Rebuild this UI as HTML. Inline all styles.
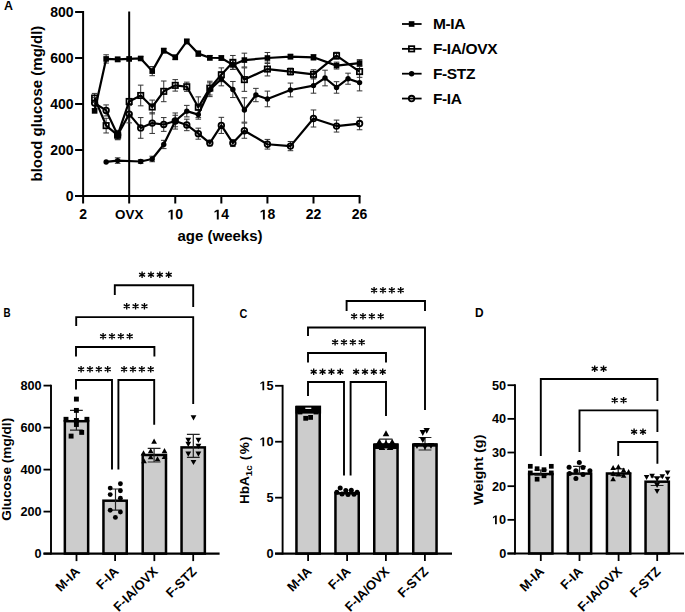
<!DOCTYPE html>
<html><head><meta charset="utf-8"><style>
html,body{margin:0;padding:0;background:#fff;}
svg{display:block;}
text{font-family:"Liberation Sans",sans-serif;fill:#000;}
</style></head><body>
<svg width="685" height="612" viewBox="0 0 685 612">
<rect width="685" height="612" fill="#fff"/>
<text x="3.90" y="9.90" font-size="12.4" text-anchor="start" font-weight="bold" >A</text>
<line x1="83.10" y1="11.00" x2="83.10" y2="197.00" stroke="#000" stroke-width="2" />
<line x1="75.10" y1="196.00" x2="360.50" y2="196.00" stroke="#000" stroke-width="2" />
<line x1="75.10" y1="196.00" x2="83.10" y2="196.00" stroke="#000" stroke-width="2" />
<text x="73.60" y="201.00" font-size="14" text-anchor="end" font-weight="bold" >0</text>
<line x1="75.10" y1="150.00" x2="83.10" y2="150.00" stroke="#000" stroke-width="2" />
<text x="73.60" y="155.00" font-size="14" text-anchor="end" font-weight="bold" >200</text>
<line x1="75.10" y1="104.00" x2="83.10" y2="104.00" stroke="#000" stroke-width="2" />
<text x="73.60" y="109.00" font-size="14" text-anchor="end" font-weight="bold" >400</text>
<line x1="75.10" y1="58.00" x2="83.10" y2="58.00" stroke="#000" stroke-width="2" />
<text x="73.60" y="63.00" font-size="14" text-anchor="end" font-weight="bold" >600</text>
<line x1="75.10" y1="12.00" x2="83.10" y2="12.00" stroke="#000" stroke-width="2" />
<text x="73.60" y="17.00" font-size="14" text-anchor="end" font-weight="bold" >800</text>
<line x1="83.10" y1="196.00" x2="83.10" y2="203.50" stroke="#000" stroke-width="2" />
<text x="83.10" y="219.40" font-size="14" text-anchor="middle" font-weight="bold" >2</text>
<line x1="129.18" y1="196.00" x2="129.18" y2="203.50" stroke="#000" stroke-width="2" />
<text x="129.18" y="219.40" font-size="13.4" text-anchor="middle" font-weight="bold" >OVX</text>
<line x1="175.26" y1="196.00" x2="175.26" y2="203.50" stroke="#000" stroke-width="2" />
<text x="175.26" y="219.40" font-size="14" text-anchor="middle" font-weight="bold" > 0</text>
<path transform="translate(167.474,219.400) scale(0.00684,-0.00684)" d="M478 0V1170L140 959V1180L493 1409H759V0Z" fill="#000"/>
<line x1="221.34" y1="196.00" x2="221.34" y2="203.50" stroke="#000" stroke-width="2" />
<text x="221.34" y="219.40" font-size="14" text-anchor="middle" font-weight="bold" > 4</text>
<path transform="translate(213.554,219.400) scale(0.00684,-0.00684)" d="M478 0V1170L140 959V1180L493 1409H759V0Z" fill="#000"/>
<line x1="267.42" y1="196.00" x2="267.42" y2="203.50" stroke="#000" stroke-width="2" />
<text x="267.42" y="219.40" font-size="14" text-anchor="middle" font-weight="bold" > 8</text>
<path transform="translate(259.634,219.400) scale(0.00684,-0.00684)" d="M478 0V1170L140 959V1180L493 1409H759V0Z" fill="#000"/>
<line x1="313.50" y1="196.00" x2="313.50" y2="203.50" stroke="#000" stroke-width="2" />
<text x="313.50" y="219.40" font-size="14" text-anchor="middle" font-weight="bold" >22</text>
<line x1="359.58" y1="196.00" x2="359.58" y2="203.50" stroke="#000" stroke-width="2" />
<text x="359.58" y="219.40" font-size="14" text-anchor="middle" font-weight="bold" >26</text>
<line x1="129.18" y1="11.50" x2="129.18" y2="196.00" stroke="#000" stroke-width="2" />
<text x="177.50" y="240.50" font-size="15" text-anchor="start" font-weight="bold" >age (weeks)</text>
<text transform="translate(41.8,181.5) rotate(-90)" font-size="15" font-weight="bold">blood glucose (mg/dl)</text>
<path d="M106.14,54.78V63.06M103.34,54.78H108.94M103.34,63.06H108.94" stroke="#333" stroke-width="1" fill="none"/>
<path d="M117.66,57.08V61.68M114.86,57.08H120.46M114.86,61.68H120.46" stroke="#333" stroke-width="1" fill="none"/>
<path d="M129.18,57.08V60.76M126.38,57.08H131.98M126.38,60.76H131.98" stroke="#333" stroke-width="1" fill="none"/>
<path d="M140.70,56.62V60.30M137.90,56.62H143.50M137.90,60.30H143.50" stroke="#333" stroke-width="1" fill="none"/>
<path d="M152.22,66.51V75.71M149.42,66.51H155.02M149.42,75.71H155.02" stroke="#333" stroke-width="1" fill="none"/>
<path d="M163.74,48.34V52.94M160.94,48.34H166.54M160.94,52.94H166.54" stroke="#333" stroke-width="1" fill="none"/>
<path d="M175.26,55.01V59.61M172.46,55.01H178.06M172.46,59.61H178.06" stroke="#333" stroke-width="1" fill="none"/>
<path d="M186.78,39.14V43.74M183.98,39.14H189.58M183.98,43.74H189.58" stroke="#333" stroke-width="1" fill="none"/>
<path d="M198.30,50.87V56.39M195.50,50.87H201.10M195.50,56.39H201.10" stroke="#333" stroke-width="1" fill="none"/>
<path d="M209.82,55.47V60.07M207.02,55.47H212.62M207.02,60.07H212.62" stroke="#333" stroke-width="1" fill="none"/>
<path d="M221.34,55.70V60.30M218.54,55.70H224.14M218.54,60.30H224.14" stroke="#333" stroke-width="1" fill="none"/>
<path d="M232.86,60.30V69.50M230.06,60.30H235.66M230.06,69.50H235.66" stroke="#333" stroke-width="1" fill="none"/>
<path d="M244.38,53.17V66.97M241.58,53.17H247.18M241.58,66.97H247.18" stroke="#333" stroke-width="1" fill="none"/>
<path d="M267.42,52.48V63.52M264.62,52.48H270.22M264.62,63.52H270.22" stroke="#333" stroke-width="1" fill="none"/>
<path d="M290.46,54.32V58.92M287.66,54.32H293.26M287.66,58.92H293.26" stroke="#333" stroke-width="1" fill="none"/>
<path d="M313.50,54.55V60.07M310.70,54.55H316.30M310.70,60.07H316.30" stroke="#333" stroke-width="1" fill="none"/>
<path d="M336.54,62.14V69.04M333.74,62.14H339.34M333.74,69.04H339.34" stroke="#333" stroke-width="1" fill="none"/>
<path d="M359.58,59.61V66.51M356.78,59.61H362.38M356.78,66.51H362.38" stroke="#333" stroke-width="1" fill="none"/>
<path d="M94.62,93.42V102.62M91.82,93.42H97.42M91.82,102.62H97.42" stroke="#333" stroke-width="1" fill="none"/>
<path d="M106.14,118.26V132.98M103.34,118.26H108.94M103.34,132.98H108.94" stroke="#333" stroke-width="1" fill="none"/>
<path d="M117.66,130.45V139.65M114.86,130.45H120.46M114.86,139.65H120.46" stroke="#333" stroke-width="1" fill="none"/>
<path d="M129.18,98.71V104.23M126.38,98.71H131.98M126.38,104.23H131.98" stroke="#333" stroke-width="1" fill="none"/>
<path d="M140.70,85.14V105.84M137.90,85.14H143.50M137.90,105.84H143.50" stroke="#333" stroke-width="1" fill="none"/>
<path d="M152.22,100.09V113.89M149.42,100.09H155.02M149.42,113.89H155.02" stroke="#333" stroke-width="1" fill="none"/>
<path d="M163.74,81.00V101.70M160.94,81.00H166.54M160.94,101.70H166.54" stroke="#333" stroke-width="1" fill="none"/>
<path d="M175.26,79.62V91.12M172.46,79.62H178.06M172.46,91.12H178.06" stroke="#333" stroke-width="1" fill="none"/>
<path d="M186.78,82.15V91.35M183.98,82.15H189.58M183.98,91.35H189.58" stroke="#333" stroke-width="1" fill="none"/>
<path d="M198.30,96.87V117.57M195.50,96.87H201.10M195.50,117.57H201.10" stroke="#333" stroke-width="1" fill="none"/>
<path d="M209.82,81.23V95.03M207.02,81.23H212.62M207.02,95.03H212.62" stroke="#333" stroke-width="1" fill="none"/>
<path d="M221.34,67.89V81.69M218.54,67.89H224.14M218.54,81.69H224.14" stroke="#333" stroke-width="1" fill="none"/>
<path d="M232.86,55.47V69.27M230.06,55.47H235.66M230.06,69.27H235.66" stroke="#333" stroke-width="1" fill="none"/>
<path d="M244.38,67.89V91.35M241.58,67.89H247.18M241.58,91.35H247.18" stroke="#333" stroke-width="1" fill="none"/>
<path d="M267.42,62.14V75.94M264.62,62.14H270.22M264.62,75.94H270.22" stroke="#333" stroke-width="1" fill="none"/>
<path d="M290.46,68.12V75.02M287.66,68.12H293.26M287.66,75.02H293.26" stroke="#333" stroke-width="1" fill="none"/>
<path d="M313.50,69.73V78.93M310.70,69.73H316.30M310.70,78.93H316.30" stroke="#333" stroke-width="1" fill="none"/>
<path d="M336.54,52.25V59.15M333.74,52.25H339.34M333.74,59.15H339.34" stroke="#333" stroke-width="1" fill="none"/>
<path d="M359.58,65.82V77.32M356.78,65.82H362.38M356.78,77.32H362.38" stroke="#333" stroke-width="1" fill="none"/>
<path d="M117.66,157.82V163.34M114.86,157.82H120.46M114.86,163.34H120.46" stroke="#333" stroke-width="1" fill="none"/>
<path d="M140.70,159.66V163.34M137.90,159.66H143.50M137.90,163.34H143.50" stroke="#333" stroke-width="1" fill="none"/>
<path d="M152.22,156.21V161.73M149.42,156.21H155.02M149.42,161.73H155.02" stroke="#333" stroke-width="1" fill="none"/>
<path d="M163.74,140.34V148.62M160.94,140.34H166.54M160.94,148.62H166.54" stroke="#333" stroke-width="1" fill="none"/>
<path d="M175.26,115.27V126.77M172.46,115.27H178.06M172.46,126.77H178.06" stroke="#333" stroke-width="1" fill="none"/>
<path d="M186.78,105.38V116.88M183.98,105.38H189.58M183.98,116.88H189.58" stroke="#333" stroke-width="1" fill="none"/>
<path d="M198.30,109.98V119.18M195.50,109.98H201.10M195.50,119.18H201.10" stroke="#333" stroke-width="1" fill="none"/>
<path d="M209.82,82.84V96.64M207.02,82.84H212.62M207.02,96.64H212.62" stroke="#333" stroke-width="1" fill="none"/>
<path d="M221.34,72.03V85.83M218.54,72.03H224.14M218.54,85.83H224.14" stroke="#333" stroke-width="1" fill="none"/>
<path d="M232.86,81.46V97.56M230.06,81.46H235.66M230.06,97.56H235.66" stroke="#333" stroke-width="1" fill="none"/>
<path d="M244.38,97.79V122.17M241.58,97.79H247.18M241.58,122.17H247.18" stroke="#333" stroke-width="1" fill="none"/>
<path d="M255.90,88.36V101.70M253.10,88.36H258.70M253.10,101.70H258.70" stroke="#333" stroke-width="1" fill="none"/>
<path d="M267.42,91.12V106.76M264.62,91.12H270.22M264.62,106.76H270.22" stroke="#333" stroke-width="1" fill="none"/>
<path d="M290.46,83.07V96.87M287.66,83.07H293.26M287.66,96.87H293.26" stroke="#333" stroke-width="1" fill="none"/>
<path d="M313.50,78.01V93.19M310.70,78.01H316.30M310.70,93.19H316.30" stroke="#333" stroke-width="1" fill="none"/>
<path d="M325.02,70.19V85.83M322.22,70.19H327.82M322.22,85.83H327.82" stroke="#333" stroke-width="1" fill="none"/>
<path d="M336.54,81.69V93.19M333.74,81.69H339.34M333.74,93.19H339.34" stroke="#333" stroke-width="1" fill="none"/>
<path d="M348.06,73.18V84.22M345.26,73.18H350.86M345.26,84.22H350.86" stroke="#333" stroke-width="1" fill="none"/>
<path d="M359.58,74.33V90.89M356.78,74.33H362.38M356.78,90.89H362.38" stroke="#333" stroke-width="1" fill="none"/>
<path d="M94.62,97.33V108.83M91.82,97.33H97.42M91.82,108.83H97.42" stroke="#333" stroke-width="1" fill="none"/>
<path d="M106.14,104.92V115.96M103.34,104.92H108.94M103.34,115.96H108.94" stroke="#333" stroke-width="1" fill="none"/>
<path d="M117.66,130.45V139.65M114.86,130.45H120.46M114.86,139.65H120.46" stroke="#333" stroke-width="1" fill="none"/>
<path d="M129.18,105.38V122.86M126.38,105.38H131.98M126.38,122.86H131.98" stroke="#333" stroke-width="1" fill="none"/>
<path d="M140.70,117.57V138.27M137.90,117.57H143.50M137.90,138.27H143.50" stroke="#333" stroke-width="1" fill="none"/>
<path d="M152.22,112.74V133.44M149.42,112.74H155.02M149.42,133.44H155.02" stroke="#333" stroke-width="1" fill="none"/>
<path d="M163.74,117.57V131.37M160.94,117.57H166.54M160.94,131.37H166.54" stroke="#333" stroke-width="1" fill="none"/>
<path d="M175.26,112.97V129.07M172.46,112.97H178.06M172.46,129.07H178.06" stroke="#333" stroke-width="1" fill="none"/>
<path d="M186.78,119.18V130.68M183.98,119.18H189.58M183.98,130.68H189.58" stroke="#333" stroke-width="1" fill="none"/>
<path d="M198.30,128.15V139.19M195.50,128.15H201.10M195.50,139.19H201.10" stroke="#333" stroke-width="1" fill="none"/>
<path d="M209.82,140.34V145.86M207.02,140.34H212.62M207.02,145.86H212.62" stroke="#333" stroke-width="1" fill="none"/>
<path d="M221.34,117.34V133.44M218.54,117.34H224.14M218.54,133.44H224.14" stroke="#333" stroke-width="1" fill="none"/>
<path d="M232.86,139.65V146.55M230.06,139.65H235.66M230.06,146.55H235.66" stroke="#333" stroke-width="1" fill="none"/>
<path d="M244.38,123.09V138.27M241.58,123.09H247.18M241.58,138.27H247.18" stroke="#333" stroke-width="1" fill="none"/>
<path d="M267.42,139.42V149.08M264.62,139.42H270.22M264.62,149.08H270.22" stroke="#333" stroke-width="1" fill="none"/>
<path d="M290.46,141.49V150.69M287.66,141.49H293.26M287.66,150.69H293.26" stroke="#333" stroke-width="1" fill="none"/>
<path d="M313.50,109.98V127.00M310.70,109.98H316.30M310.70,127.00H316.30" stroke="#333" stroke-width="1" fill="none"/>
<path d="M336.54,120.10V132.06M333.74,120.10H339.34M333.74,132.06H339.34" stroke="#333" stroke-width="1" fill="none"/>
<path d="M359.58,117.34V129.76M356.78,117.34H362.38M356.78,129.76H362.38" stroke="#333" stroke-width="1" fill="none"/>
<polyline points="94.62,110.90 106.14,58.92 117.66,59.38 129.18,58.92 140.70,58.46 152.22,71.11 163.74,50.64 175.26,57.31 186.78,41.44 198.30,53.63 209.82,57.77 221.34,58.00 232.86,64.90 244.38,60.07 267.42,58.00 290.46,56.62 313.50,57.31 336.54,65.59 359.58,63.06" fill="none" stroke="#000" stroke-width="2.2" stroke-linejoin="round"/>
<polyline points="94.62,98.02 106.14,125.62 117.66,135.05 129.18,101.47 140.70,95.49 152.22,106.99 163.74,91.35 175.26,85.37 186.78,86.75 198.30,107.22 209.82,88.13 221.34,74.79 232.86,62.37 244.38,79.62 267.42,69.04 290.46,71.57 313.50,74.33 336.54,55.70 359.58,71.57" fill="none" stroke="#000" stroke-width="2.2" stroke-linejoin="round"/>
<polyline points="106.14,161.96 117.66,160.58 140.70,161.50 152.22,158.97 163.74,144.48 175.26,121.02 186.78,111.13 198.30,114.58 209.82,89.74 221.34,78.93 232.86,89.51 244.38,109.98 255.90,95.03 267.42,98.94 290.46,89.97 313.50,85.60 325.02,78.01 336.54,87.44 348.06,78.70 359.58,82.61" fill="none" stroke="#000" stroke-width="2.2" stroke-linejoin="round"/>
<polyline points="94.62,103.08 106.14,110.44 117.66,135.05 129.18,114.12 140.70,127.92 152.22,123.09 163.74,124.47 175.26,121.02 186.78,124.93 198.30,133.67 209.82,143.10 221.34,125.39 232.86,143.10 244.38,130.68 267.42,144.25 290.46,146.09 313.50,118.49 336.54,126.08 359.58,123.55" fill="none" stroke="#000" stroke-width="2.2" stroke-linejoin="round"/>
<circle cx="94.62" cy="103.08" r="2.8" fill="none" stroke="#000" stroke-width="1.8"/>
<circle cx="106.14" cy="110.44" r="2.8" fill="none" stroke="#000" stroke-width="1.8"/>
<circle cx="117.66" cy="135.05" r="2.8" fill="none" stroke="#000" stroke-width="1.8"/>
<circle cx="129.18" cy="114.12" r="2.8" fill="none" stroke="#000" stroke-width="1.8"/>
<circle cx="140.70" cy="127.92" r="2.8" fill="none" stroke="#000" stroke-width="1.8"/>
<circle cx="152.22" cy="123.09" r="2.8" fill="none" stroke="#000" stroke-width="1.8"/>
<circle cx="163.74" cy="124.47" r="2.8" fill="none" stroke="#000" stroke-width="1.8"/>
<circle cx="175.26" cy="121.02" r="2.8" fill="none" stroke="#000" stroke-width="1.8"/>
<circle cx="186.78" cy="124.93" r="2.8" fill="none" stroke="#000" stroke-width="1.8"/>
<circle cx="198.30" cy="133.67" r="2.8" fill="none" stroke="#000" stroke-width="1.8"/>
<circle cx="209.82" cy="143.10" r="2.8" fill="none" stroke="#000" stroke-width="1.8"/>
<circle cx="221.34" cy="125.39" r="2.8" fill="none" stroke="#000" stroke-width="1.8"/>
<circle cx="232.86" cy="143.10" r="2.8" fill="none" stroke="#000" stroke-width="1.8"/>
<circle cx="244.38" cy="130.68" r="2.8" fill="none" stroke="#000" stroke-width="1.8"/>
<circle cx="267.42" cy="144.25" r="2.8" fill="none" stroke="#000" stroke-width="1.8"/>
<circle cx="290.46" cy="146.09" r="2.8" fill="none" stroke="#000" stroke-width="1.8"/>
<circle cx="313.50" cy="118.49" r="2.8" fill="none" stroke="#000" stroke-width="1.8"/>
<circle cx="336.54" cy="126.08" r="2.8" fill="none" stroke="#000" stroke-width="1.8"/>
<circle cx="359.58" cy="123.55" r="2.8" fill="none" stroke="#000" stroke-width="1.8"/>
<circle cx="106.14" cy="161.96" r="2.7" fill="#000"/>
<circle cx="117.66" cy="160.58" r="2.7" fill="#000"/>
<circle cx="140.70" cy="161.50" r="2.7" fill="#000"/>
<circle cx="152.22" cy="158.97" r="2.7" fill="#000"/>
<circle cx="163.74" cy="144.48" r="2.7" fill="#000"/>
<circle cx="175.26" cy="121.02" r="2.7" fill="#000"/>
<circle cx="186.78" cy="111.13" r="2.7" fill="#000"/>
<circle cx="198.30" cy="114.58" r="2.7" fill="#000"/>
<circle cx="209.82" cy="89.74" r="2.7" fill="#000"/>
<circle cx="221.34" cy="78.93" r="2.7" fill="#000"/>
<circle cx="232.86" cy="89.51" r="2.7" fill="#000"/>
<circle cx="244.38" cy="109.98" r="2.7" fill="#000"/>
<circle cx="255.90" cy="95.03" r="2.7" fill="#000"/>
<circle cx="267.42" cy="98.94" r="2.7" fill="#000"/>
<circle cx="290.46" cy="89.97" r="2.7" fill="#000"/>
<circle cx="313.50" cy="85.60" r="2.7" fill="#000"/>
<circle cx="325.02" cy="78.01" r="2.7" fill="#000"/>
<circle cx="336.54" cy="87.44" r="2.7" fill="#000"/>
<circle cx="348.06" cy="78.70" r="2.7" fill="#000"/>
<circle cx="359.58" cy="82.61" r="2.7" fill="#000"/>
<rect x="91.92" y="95.32" width="5.4" height="5.4" fill="none" stroke="#000" stroke-width="1.7"/>
<rect x="103.44" y="122.92" width="5.4" height="5.4" fill="none" stroke="#000" stroke-width="1.7"/>
<rect x="114.96" y="132.35" width="5.4" height="5.4" fill="none" stroke="#000" stroke-width="1.7"/>
<rect x="126.48" y="98.77" width="5.4" height="5.4" fill="none" stroke="#000" stroke-width="1.7"/>
<rect x="138.00" y="92.79" width="5.4" height="5.4" fill="none" stroke="#000" stroke-width="1.7"/>
<rect x="149.52" y="104.29" width="5.4" height="5.4" fill="none" stroke="#000" stroke-width="1.7"/>
<rect x="161.04" y="88.65" width="5.4" height="5.4" fill="none" stroke="#000" stroke-width="1.7"/>
<rect x="172.56" y="82.67" width="5.4" height="5.4" fill="none" stroke="#000" stroke-width="1.7"/>
<rect x="184.08" y="84.05" width="5.4" height="5.4" fill="none" stroke="#000" stroke-width="1.7"/>
<rect x="195.60" y="104.52" width="5.4" height="5.4" fill="none" stroke="#000" stroke-width="1.7"/>
<rect x="207.12" y="85.43" width="5.4" height="5.4" fill="none" stroke="#000" stroke-width="1.7"/>
<rect x="218.64" y="72.09" width="5.4" height="5.4" fill="none" stroke="#000" stroke-width="1.7"/>
<rect x="230.16" y="59.67" width="5.4" height="5.4" fill="none" stroke="#000" stroke-width="1.7"/>
<rect x="241.68" y="76.92" width="5.4" height="5.4" fill="none" stroke="#000" stroke-width="1.7"/>
<rect x="264.72" y="66.34" width="5.4" height="5.4" fill="none" stroke="#000" stroke-width="1.7"/>
<rect x="287.76" y="68.87" width="5.4" height="5.4" fill="none" stroke="#000" stroke-width="1.7"/>
<rect x="310.80" y="71.63" width="5.4" height="5.4" fill="none" stroke="#000" stroke-width="1.7"/>
<rect x="333.84" y="53.00" width="5.4" height="5.4" fill="none" stroke="#000" stroke-width="1.7"/>
<rect x="356.88" y="68.87" width="5.4" height="5.4" fill="none" stroke="#000" stroke-width="1.7"/>
<rect x="91.82" y="108.10" width="5.6" height="5.6" fill="#000"/>
<rect x="103.34" y="56.12" width="5.6" height="5.6" fill="#000"/>
<rect x="114.86" y="56.58" width="5.6" height="5.6" fill="#000"/>
<rect x="126.38" y="56.12" width="5.6" height="5.6" fill="#000"/>
<rect x="137.90" y="55.66" width="5.6" height="5.6" fill="#000"/>
<rect x="149.42" y="68.31" width="5.6" height="5.6" fill="#000"/>
<rect x="160.94" y="47.84" width="5.6" height="5.6" fill="#000"/>
<rect x="172.46" y="54.51" width="5.6" height="5.6" fill="#000"/>
<rect x="183.98" y="38.64" width="5.6" height="5.6" fill="#000"/>
<rect x="195.50" y="50.83" width="5.6" height="5.6" fill="#000"/>
<rect x="207.02" y="54.97" width="5.6" height="5.6" fill="#000"/>
<rect x="218.54" y="55.20" width="5.6" height="5.6" fill="#000"/>
<rect x="230.06" y="62.10" width="5.6" height="5.6" fill="#000"/>
<rect x="241.58" y="57.27" width="5.6" height="5.6" fill="#000"/>
<rect x="264.62" y="55.20" width="5.6" height="5.6" fill="#000"/>
<rect x="287.66" y="53.82" width="5.6" height="5.6" fill="#000"/>
<rect x="310.70" y="54.51" width="5.6" height="5.6" fill="#000"/>
<rect x="333.74" y="62.79" width="5.6" height="5.6" fill="#000"/>
<rect x="356.78" y="60.26" width="5.6" height="5.6" fill="#000"/>
<rect x="114.56" y="132.41" width="6.2" height="6.2" fill="#000"/>
<line x1="402.00" y1="24.00" x2="421.60" y2="24.00" stroke="#000" stroke-width="1.8" />
<rect x="408.80" y="21.20" width="5.6" height="5.6" fill="#000"/>
<text x="433.00" y="29.40" font-size="15.5" text-anchor="start" font-weight="bold" letter-spacing="-0.38">M-IA</text>
<line x1="402.00" y1="48.85" x2="421.60" y2="48.85" stroke="#000" stroke-width="1.8" />
<rect x="408.90" y="46.15" width="5.4" height="5.4" fill="none" stroke="#000" stroke-width="1.7"/>
<text x="433.00" y="54.25" font-size="15.5" text-anchor="start" font-weight="bold" letter-spacing="-0.38">F-IA/OVX</text>
<line x1="402.00" y1="73.70" x2="421.60" y2="73.70" stroke="#000" stroke-width="1.8" />
<circle cx="411.60" cy="73.70" r="2.7" fill="#000"/>
<text x="433.00" y="79.10" font-size="15.5" text-anchor="start" font-weight="bold" letter-spacing="-0.38">F-STZ</text>
<line x1="402.00" y1="98.55" x2="421.60" y2="98.55" stroke="#000" stroke-width="1.8" />
<circle cx="411.60" cy="98.55" r="2.8" fill="none" stroke="#000" stroke-width="1.8"/>
<text x="433.00" y="103.95" font-size="15.5" text-anchor="start" font-weight="bold" letter-spacing="-0.38">F-IA</text>
<text transform="translate(3.4,317.0) scale(0.82,1)" font-size="12" font-weight="bold">B</text>
<rect x="64.85" y="421.20" width="23.3" height="132.40" fill="#cccccc" stroke="#000" stroke-width="2.5"/>
<rect x="103.45" y="500.70" width="23.3" height="52.90" fill="#cccccc" stroke="#000" stroke-width="2.5"/>
<rect x="142.70" y="455.00" width="23.3" height="98.60" fill="#cccccc" stroke="#000" stroke-width="2.5"/>
<rect x="181.55" y="447.40" width="23.3" height="106.20" fill="#cccccc" stroke="#000" stroke-width="2.5"/>
<line x1="51.00" y1="384.70" x2="51.00" y2="554.60" stroke="#000" stroke-width="1.9" />
<line x1="43.50" y1="553.60" x2="219.60" y2="553.60" stroke="#000" stroke-width="2.2" />
<line x1="43.50" y1="553.60" x2="51.00" y2="553.60" stroke="#000" stroke-width="1.8" />
<text x="41.60" y="558.10" font-size="12.7" text-anchor="end" font-weight="bold" >0</text>
<line x1="43.50" y1="511.60" x2="51.00" y2="511.60" stroke="#000" stroke-width="1.8" />
<text x="41.60" y="516.10" font-size="12.7" text-anchor="end" font-weight="bold" >200</text>
<line x1="43.50" y1="469.60" x2="51.00" y2="469.60" stroke="#000" stroke-width="1.8" />
<text x="41.60" y="474.10" font-size="12.7" text-anchor="end" font-weight="bold" >400</text>
<line x1="43.50" y1="427.60" x2="51.00" y2="427.60" stroke="#000" stroke-width="1.8" />
<text x="41.60" y="432.10" font-size="12.7" text-anchor="end" font-weight="bold" >600</text>
<line x1="43.50" y1="385.60" x2="51.00" y2="385.60" stroke="#000" stroke-width="1.8" />
<text x="41.60" y="390.10" font-size="12.7" text-anchor="end" font-weight="bold" >800</text>
<line x1="76.50" y1="553.60" x2="76.50" y2="561.10" stroke="#000" stroke-width="1.8" />
<line x1="115.10" y1="553.60" x2="115.10" y2="561.10" stroke="#000" stroke-width="1.8" />
<line x1="154.35" y1="553.60" x2="154.35" y2="561.10" stroke="#000" stroke-width="1.8" />
<line x1="193.20" y1="553.60" x2="193.20" y2="561.10" stroke="#000" stroke-width="1.8" />
<text transform="translate(80.70,572.30) rotate(-45)" font-size="13" font-weight="bold" text-anchor="end">M-IA</text>
<text transform="translate(119.30,572.30) rotate(-45)" font-size="13" font-weight="bold" text-anchor="end">F-IA</text>
<text transform="translate(158.55,572.30) rotate(-45)" font-size="13" font-weight="bold" text-anchor="end">F-IA/OVX</text>
<text transform="translate(197.40,572.30) rotate(-45)" font-size="13" font-weight="bold" text-anchor="end">F-STZ</text>
<text transform="translate(11.4,520.8) rotate(-90)" font-size="13" font-weight="bold" textLength="103" lengthAdjust="spacingAndGlyphs">Glucose (mg/dl)</text>
<path d="M76.40,410.40V430.20M70.00,410.40H82.80M70.00,430.20H82.80" stroke="#222" stroke-width="1.2" fill="none"/>
<rect x="73.95" y="396.65" width="4.9" height="4.9" fill="#000"/>
<rect x="73.95" y="407.95" width="4.9" height="4.9" fill="#000"/>
<rect x="63.55" y="416.85" width="4.9" height="4.9" fill="#000"/>
<rect x="84.45" y="416.85" width="4.9" height="4.9" fill="#000"/>
<rect x="73.95" y="418.05" width="4.9" height="4.9" fill="#000"/>
<rect x="73.95" y="422.05" width="4.9" height="4.9" fill="#000"/>
<rect x="79.25" y="429.95" width="4.9" height="4.9" fill="#000"/>
<rect x="68.65" y="433.65" width="4.9" height="4.9" fill="#000"/>
<path d="M115.50,489.00V510.10M109.10,489.00H121.90M109.10,510.10H121.90" stroke="#222" stroke-width="1.2" fill="none"/>
<circle cx="120.40" cy="483.80" r="2.45" fill="#000"/>
<circle cx="110.20" cy="488.10" r="2.45" fill="#000"/>
<circle cx="120.40" cy="490.80" r="2.45" fill="#000"/>
<circle cx="110.20" cy="494.60" r="2.45" fill="#000"/>
<circle cx="120.40" cy="498.30" r="2.45" fill="#000"/>
<circle cx="110.20" cy="510.30" r="2.45" fill="#000"/>
<circle cx="120.40" cy="512.10" r="2.45" fill="#000"/>
<circle cx="115.40" cy="517.40" r="2.45" fill="#000"/>
<path d="M154.10,448.40V462.00M147.70,448.40H160.50M147.70,462.00H160.50" stroke="#222" stroke-width="1.2" fill="none"/>
<path d="M154.10,438.54L156.95,443.67L151.25,443.67Z" fill="#000"/>
<path d="M150.70,448.04L153.55,453.17L147.85,453.17Z" fill="#000"/>
<path d="M164.50,448.04L167.35,453.17L161.65,453.17Z" fill="#000"/>
<path d="M143.50,450.33L146.35,455.46L140.65,455.46Z" fill="#000"/>
<path d="M150.70,454.24L153.55,459.37L147.85,459.37Z" fill="#000"/>
<path d="M157.50,456.24L160.35,461.37L154.65,461.37Z" fill="#000"/>
<path d="M164.50,453.94L167.35,459.06L161.65,459.06Z" fill="#000"/>
<path d="M144.00,458.13L146.85,463.26L141.15,463.26Z" fill="#000"/>
<path d="M193.30,434.30V457.30M186.90,434.30H199.70M186.90,457.30H199.70" stroke="#222" stroke-width="1.2" fill="none"/>
<path d="M193.50,420.51L196.40,415.29L190.60,415.29Z" fill="#000"/>
<path d="M188.30,443.01L191.20,437.79L185.40,437.79Z" fill="#000"/>
<path d="M198.40,443.01L201.30,437.79L195.50,437.79Z" fill="#000"/>
<path d="M188.30,446.91L191.20,441.69L185.40,441.69Z" fill="#000"/>
<path d="M198.40,448.91L201.30,443.69L195.50,443.69Z" fill="#000"/>
<path d="M188.30,456.81L191.20,451.59L185.40,451.59Z" fill="#000"/>
<path d="M198.40,456.81L201.30,451.59L195.50,451.59Z" fill="#000"/>
<path d="M193.50,465.11L196.40,459.89L190.60,459.89Z" fill="#000"/>
<path d="M114.80,295.00V285.20H193.20V307.00" stroke="#000" stroke-width="1.9" fill="none"/>
<path d="M142.10,271.40V278.00M139.10,273.05L145.10,276.35M139.10,276.35L145.10,273.05" stroke="#000" stroke-width="1.35" fill="none"/>
<path d="M150.97,271.40V278.00M147.97,273.05L153.97,276.35M147.97,276.35L153.97,273.05" stroke="#000" stroke-width="1.35" fill="none"/>
<path d="M159.84,271.40V278.00M156.84,273.05L162.84,276.35M156.84,276.35L162.84,273.05" stroke="#000" stroke-width="1.35" fill="none"/>
<path d="M168.71,271.40V278.00M165.71,273.05L171.71,276.35M165.71,276.35L171.71,273.05" stroke="#000" stroke-width="1.35" fill="none"/>
<path d="M76.20,326.00V317.10H193.20V404.00" stroke="#000" stroke-width="1.9" fill="none"/>
<path d="M126.70,303.00V309.60M123.70,304.65L129.70,307.95M123.70,307.95L129.70,304.65" stroke="#000" stroke-width="1.35" fill="none"/>
<path d="M135.57,303.00V309.60M132.57,304.65L138.57,307.95M132.57,307.95L138.57,304.65" stroke="#000" stroke-width="1.35" fill="none"/>
<path d="M144.44,303.00V309.60M141.44,304.65L147.44,307.95M141.44,307.95L147.44,304.65" stroke="#000" stroke-width="1.35" fill="none"/>
<path d="M76.00,356.60V347.00H154.40V356.60" stroke="#000" stroke-width="1.9" fill="none"/>
<path d="M103.10,333.00V339.60M100.10,334.65L106.10,337.95M100.10,337.95L106.10,334.65" stroke="#000" stroke-width="1.35" fill="none"/>
<path d="M111.97,333.00V339.60M108.97,334.65L114.97,337.95M108.97,337.95L114.97,334.65" stroke="#000" stroke-width="1.35" fill="none"/>
<path d="M120.84,333.00V339.60M117.84,334.65L123.84,337.95M117.84,337.95L123.84,334.65" stroke="#000" stroke-width="1.35" fill="none"/>
<path d="M129.71,333.00V339.60M126.71,334.65L132.71,337.95M126.71,337.95L132.71,334.65" stroke="#000" stroke-width="1.35" fill="none"/>
<path d="M76.00,389.60V380.00H112.00V469.60" stroke="#000" stroke-width="1.9" fill="none"/>
<path d="M118.40,469.60V380.00H154.20V424.70" stroke="#000" stroke-width="1.9" fill="none"/>
<path d="M81.10,366.00V372.60M78.10,367.65L84.10,370.95M78.10,370.95L84.10,367.65" stroke="#000" stroke-width="1.35" fill="none"/>
<path d="M89.97,366.00V372.60M86.97,367.65L92.97,370.95M86.97,370.95L92.97,367.65" stroke="#000" stroke-width="1.35" fill="none"/>
<path d="M98.84,366.00V372.60M95.84,367.65L101.84,370.95M95.84,370.95L101.84,367.65" stroke="#000" stroke-width="1.35" fill="none"/>
<path d="M107.71,366.00V372.60M104.71,367.65L110.71,370.95M104.71,370.95L110.71,367.65" stroke="#000" stroke-width="1.35" fill="none"/>
<path d="M124.10,366.00V372.60M121.10,367.65L127.10,370.95M121.10,370.95L127.10,367.65" stroke="#000" stroke-width="1.35" fill="none"/>
<path d="M132.97,366.00V372.60M129.97,367.65L135.97,370.95M129.97,370.95L135.97,367.65" stroke="#000" stroke-width="1.35" fill="none"/>
<path d="M141.84,366.00V372.60M138.84,367.65L144.84,370.95M138.84,370.95L144.84,367.65" stroke="#000" stroke-width="1.35" fill="none"/>
<path d="M150.71,366.00V372.60M147.71,367.65L153.71,370.95M147.71,370.95L153.71,367.65" stroke="#000" stroke-width="1.35" fill="none"/>
<text transform="translate(239.5,317.6) scale(0.84,1)" font-size="12.9" font-weight="bold">C</text>
<rect x="296.45" y="407.30" width="23.3" height="146.30" fill="#cccccc" stroke="#000" stroke-width="2.5"/>
<rect x="335.45" y="493.30" width="23.3" height="60.30" fill="#cccccc" stroke="#000" stroke-width="2.5"/>
<rect x="374.25" y="444.70" width="23.3" height="108.90" fill="#cccccc" stroke="#000" stroke-width="2.5"/>
<rect x="413.25" y="444.60" width="23.3" height="109.00" fill="#cccccc" stroke="#000" stroke-width="2.5"/>
<line x1="282.60" y1="384.90" x2="282.60" y2="554.60" stroke="#000" stroke-width="1.9" />
<line x1="275.10" y1="553.60" x2="452.00" y2="553.60" stroke="#000" stroke-width="2.2" />
<line x1="275.10" y1="553.60" x2="282.60" y2="553.60" stroke="#000" stroke-width="1.8" />
<text x="273.60" y="558.10" font-size="12.7" text-anchor="end" font-weight="bold" >0</text>
<line x1="275.10" y1="497.67" x2="282.60" y2="497.67" stroke="#000" stroke-width="1.8" />
<text x="273.60" y="502.17" font-size="12.7" text-anchor="end" font-weight="bold" >5</text>
<line x1="275.10" y1="441.73" x2="282.60" y2="441.73" stroke="#000" stroke-width="1.8" />
<text x="273.60" y="446.23" font-size="12.7" text-anchor="end" font-weight="bold" > 0</text>
<path transform="translate(259.474,446.230) scale(0.00620,-0.00620)" d="M478 0V1170L140 959V1180L493 1409H759V0Z" fill="#000"/>
<line x1="275.10" y1="385.80" x2="282.60" y2="385.80" stroke="#000" stroke-width="1.8" />
<text x="273.60" y="390.30" font-size="12.7" text-anchor="end" font-weight="bold" > 5</text>
<path transform="translate(259.474,390.295) scale(0.00620,-0.00620)" d="M478 0V1170L140 959V1180L493 1409H759V0Z" fill="#000"/>
<line x1="308.10" y1="553.60" x2="308.10" y2="561.10" stroke="#000" stroke-width="1.8" />
<line x1="347.10" y1="553.60" x2="347.10" y2="561.10" stroke="#000" stroke-width="1.8" />
<line x1="385.90" y1="553.60" x2="385.90" y2="561.10" stroke="#000" stroke-width="1.8" />
<line x1="424.90" y1="553.60" x2="424.90" y2="561.10" stroke="#000" stroke-width="1.8" />
<text transform="translate(312.30,572.30) rotate(-45)" font-size="13" font-weight="bold" text-anchor="end">M-IA</text>
<text transform="translate(351.30,572.30) rotate(-45)" font-size="13" font-weight="bold" text-anchor="end">F-IA</text>
<text transform="translate(390.10,572.30) rotate(-45)" font-size="13" font-weight="bold" text-anchor="end">F-IA/OVX</text>
<text transform="translate(429.10,572.30) rotate(-45)" font-size="13" font-weight="bold" text-anchor="end">F-STZ</text>
<text transform="translate(248.6,504) rotate(-90) scale(1.1,1)" font-size="12.3" font-weight="bold">HbA<tspan font-size="9" dy="3.3">1c</tspan><tspan dy="-3.3" letter-spacing="1.2"> (%)</tspan></text>
<rect x="295.5" y="405.6" width="25.6" height="8" fill="#000"/>
<rect x="303.30" y="415.90" width="4.8" height="4.8" fill="#000"/>
<rect x="308.20" y="415.00" width="4.8" height="4.8" fill="#000"/>
<rect x="297.60" y="409.60" width="4.8" height="4.8" fill="#000"/>
<rect x="313.60" y="409.60" width="4.8" height="4.8" fill="#000"/>
<path d="M305.3,408.3h6" stroke="#fff" stroke-width="1.3"/>
<circle cx="340.20" cy="487.90" r="2.5" fill="#000"/>
<circle cx="345.80" cy="490.50" r="2.5" fill="#000"/>
<circle cx="351.30" cy="490.20" r="2.5" fill="#000"/>
<circle cx="357.10" cy="492.30" r="2.5" fill="#000"/>
<circle cx="336.80" cy="492.30" r="2.5" fill="#000"/>
<circle cx="342.00" cy="494.00" r="2.5" fill="#000"/>
<circle cx="348.00" cy="494.50" r="2.5" fill="#000"/>
<circle cx="354.00" cy="494.30" r="2.5" fill="#000"/>
<path d="M386.00,439.20V447.00M379.60,439.20H392.40M379.60,447.00H392.40" stroke="#222" stroke-width="1.2" fill="none"/>
<path d="M386.00,430.33L389.30,436.27L382.70,436.27Z" fill="#000"/>
<path d="M379.30,438.53L382.60,444.47L376.00,444.47Z" fill="#000"/>
<path d="M392.20,438.83L395.50,444.77L388.90,444.77Z" fill="#000"/>
<path d="M386.00,440.03L389.30,445.97L382.70,445.97Z" fill="#000"/>
<path d="M377.00,443.03L380.30,448.97L373.70,448.97Z" fill="#000"/>
<path d="M382.00,444.03L385.30,449.97L378.70,449.97Z" fill="#000"/>
<path d="M390.00,444.03L393.30,449.97L386.70,449.97Z" fill="#000"/>
<path d="M395.00,443.03L398.30,448.97L391.70,448.97Z" fill="#000"/>
<rect x="374" y="443.4" width="24.3" height="5" fill="#000"/>
<path d="M425.00,437.50V450.00M418.60,437.50H431.40M418.60,450.00H431.40" stroke="#222" stroke-width="1.2" fill="none"/>
<path d="M426.70,433.78L429.90,428.02L423.50,428.02Z" fill="#000"/>
<path d="M422.80,435.88L426.00,430.12L419.60,430.12Z" fill="#000"/>
<path d="M422.80,442.98L426.00,437.22L419.60,437.22Z" fill="#000"/>
<path d="M417.00,448.88L420.20,443.12L413.80,443.12Z" fill="#000"/>
<path d="M431.00,448.88L434.20,443.12L427.80,443.12Z" fill="#000"/>
<path d="M425.00,449.88L428.20,444.12L421.80,444.12Z" fill="#000"/>
<rect x="413" y="443.3" width="24.3" height="3.4" fill="#000"/>
<path d="M346.60,311.00V301.00H425.00V311.00" stroke="#000" stroke-width="1.9" fill="none"/>
<path d="M374.10,287.00V293.60M371.10,288.65L377.10,291.95M371.10,291.95L377.10,288.65" stroke="#000" stroke-width="1.35" fill="none"/>
<path d="M382.97,287.00V293.60M379.97,288.65L385.97,291.95M379.97,291.95L385.97,288.65" stroke="#000" stroke-width="1.35" fill="none"/>
<path d="M391.84,287.00V293.60M388.84,288.65L394.84,291.95M388.84,291.95L394.84,288.65" stroke="#000" stroke-width="1.35" fill="none"/>
<path d="M400.71,287.00V293.60M397.71,288.65L403.71,291.95M397.71,291.95L403.71,288.65" stroke="#000" stroke-width="1.35" fill="none"/>
<path d="M308.00,336.00V327.50H425.00V410.00" stroke="#000" stroke-width="1.9" fill="none"/>
<path d="M354.10,313.00V319.60M351.10,314.65L357.10,317.95M351.10,317.95L357.10,314.65" stroke="#000" stroke-width="1.35" fill="none"/>
<path d="M362.97,313.00V319.60M359.97,314.65L365.97,317.95M359.97,317.95L365.97,314.65" stroke="#000" stroke-width="1.35" fill="none"/>
<path d="M371.84,313.00V319.60M368.84,314.65L374.84,317.95M368.84,317.95L374.84,314.65" stroke="#000" stroke-width="1.35" fill="none"/>
<path d="M380.71,313.00V319.60M377.71,314.65L383.71,317.95M377.71,317.95L383.71,314.65" stroke="#000" stroke-width="1.35" fill="none"/>
<path d="M308.00,362.40V353.00H386.00V362.40" stroke="#000" stroke-width="1.9" fill="none"/>
<path d="M335.10,339.00V345.60M332.10,340.65L338.10,343.95M332.10,343.95L338.10,340.65" stroke="#000" stroke-width="1.35" fill="none"/>
<path d="M343.97,339.00V345.60M340.97,340.65L346.97,343.95M340.97,343.95L346.97,340.65" stroke="#000" stroke-width="1.35" fill="none"/>
<path d="M352.84,339.00V345.60M349.84,340.65L355.84,343.95M349.84,343.95L355.84,340.65" stroke="#000" stroke-width="1.35" fill="none"/>
<path d="M361.71,339.00V345.60M358.71,340.65L364.71,343.95M358.71,343.95L364.71,340.65" stroke="#000" stroke-width="1.35" fill="none"/>
<path d="M308.00,396.00V382.00H344.00V475.60" stroke="#000" stroke-width="1.9" fill="none"/>
<path d="M350.60,475.60V382.00H386.00V416.00" stroke="#000" stroke-width="1.9" fill="none"/>
<path d="M313.70,368.40V375.00M310.70,370.05L316.70,373.35M310.70,373.35L316.70,370.05" stroke="#000" stroke-width="1.35" fill="none"/>
<path d="M322.57,368.40V375.00M319.57,370.05L325.57,373.35M319.57,373.35L325.57,370.05" stroke="#000" stroke-width="1.35" fill="none"/>
<path d="M331.44,368.40V375.00M328.44,370.05L334.44,373.35M328.44,373.35L334.44,370.05" stroke="#000" stroke-width="1.35" fill="none"/>
<path d="M340.31,368.40V375.00M337.31,370.05L343.31,373.35M337.31,373.35L343.31,370.05" stroke="#000" stroke-width="1.35" fill="none"/>
<path d="M356.10,368.40V375.00M353.10,370.05L359.10,373.35M353.10,373.35L359.10,370.05" stroke="#000" stroke-width="1.35" fill="none"/>
<path d="M364.97,368.40V375.00M361.97,370.05L367.97,373.35M361.97,373.35L367.97,370.05" stroke="#000" stroke-width="1.35" fill="none"/>
<path d="M373.84,368.40V375.00M370.84,370.05L376.84,373.35M370.84,373.35L376.84,370.05" stroke="#000" stroke-width="1.35" fill="none"/>
<path d="M382.71,368.40V375.00M379.71,370.05L385.71,373.35M379.71,373.35L385.71,370.05" stroke="#000" stroke-width="1.35" fill="none"/>
<text transform="translate(475.0,317.4) scale(0.93,1)" font-size="12.8" font-weight="bold">D</text>
<rect x="529.15" y="474.00" width="23.3" height="79.50" fill="#cccccc" stroke="#000" stroke-width="2.5"/>
<rect x="567.85" y="473.60" width="23.3" height="79.90" fill="#cccccc" stroke="#000" stroke-width="2.5"/>
<rect x="606.95" y="473.50" width="23.3" height="80.00" fill="#cccccc" stroke="#000" stroke-width="2.5"/>
<rect x="645.55" y="481.70" width="23.3" height="71.80" fill="#cccccc" stroke="#000" stroke-width="2.5"/>
<line x1="515.00" y1="384.30" x2="515.00" y2="554.50" stroke="#000" stroke-width="1.9" />
<line x1="507.50" y1="553.50" x2="684.00" y2="553.50" stroke="#000" stroke-width="2.2" />
<line x1="507.50" y1="553.50" x2="515.00" y2="553.50" stroke="#000" stroke-width="1.8" />
<text x="506.20" y="558.00" font-size="12.7" text-anchor="end" font-weight="bold" >0</text>
<line x1="507.50" y1="519.84" x2="515.00" y2="519.84" stroke="#000" stroke-width="1.8" />
<text x="506.20" y="524.34" font-size="12.7" text-anchor="end" font-weight="bold" > 0</text>
<path transform="translate(492.074,524.340) scale(0.00620,-0.00620)" d="M478 0V1170L140 959V1180L493 1409H759V0Z" fill="#000"/>
<line x1="507.50" y1="486.18" x2="515.00" y2="486.18" stroke="#000" stroke-width="1.8" />
<text x="506.20" y="490.68" font-size="12.7" text-anchor="end" font-weight="bold" >20</text>
<line x1="507.50" y1="452.52" x2="515.00" y2="452.52" stroke="#000" stroke-width="1.8" />
<text x="506.20" y="457.02" font-size="12.7" text-anchor="end" font-weight="bold" >30</text>
<line x1="507.50" y1="418.86" x2="515.00" y2="418.86" stroke="#000" stroke-width="1.8" />
<text x="506.20" y="423.36" font-size="12.7" text-anchor="end" font-weight="bold" >40</text>
<line x1="507.50" y1="385.20" x2="515.00" y2="385.20" stroke="#000" stroke-width="1.8" />
<text x="506.20" y="389.70" font-size="12.7" text-anchor="end" font-weight="bold" >50</text>
<line x1="540.80" y1="553.50" x2="540.80" y2="561.00" stroke="#000" stroke-width="1.8" />
<line x1="579.50" y1="553.50" x2="579.50" y2="561.00" stroke="#000" stroke-width="1.8" />
<line x1="618.60" y1="553.50" x2="618.60" y2="561.00" stroke="#000" stroke-width="1.8" />
<line x1="657.20" y1="553.50" x2="657.20" y2="561.00" stroke="#000" stroke-width="1.8" />
<text transform="translate(545.00,572.30) rotate(-45)" font-size="13" font-weight="bold" text-anchor="end">M-IA</text>
<text transform="translate(583.70,572.30) rotate(-45)" font-size="13" font-weight="bold" text-anchor="end">F-IA</text>
<text transform="translate(622.80,572.30) rotate(-45)" font-size="13" font-weight="bold" text-anchor="end">F-IA/OVX</text>
<text transform="translate(661.40,572.30) rotate(-45)" font-size="13" font-weight="bold" text-anchor="end">F-STZ</text>
<text transform="translate(482.6,505) rotate(-90)" font-size="12" font-weight="bold" textLength="70.5" lengthAdjust="spacingAndGlyphs">Weight (g)</text>
<path d="M540.80,470.00V475.20M534.40,470.00H547.20M534.40,475.20H547.20" stroke="#222" stroke-width="1.2" fill="none"/>
<rect x="527.95" y="463.95" width="4.7" height="4.7" fill="#000"/>
<rect x="548.95" y="463.95" width="4.7" height="4.7" fill="#000"/>
<rect x="534.75" y="466.35" width="4.7" height="4.7" fill="#000"/>
<rect x="541.65" y="467.35" width="4.7" height="4.7" fill="#000"/>
<rect x="527.95" y="470.55" width="4.7" height="4.7" fill="#000"/>
<rect x="548.95" y="470.55" width="4.7" height="4.7" fill="#000"/>
<rect x="541.65" y="473.45" width="4.7" height="4.7" fill="#000"/>
<rect x="534.75" y="476.85" width="4.7" height="4.7" fill="#000"/>
<path d="M579.50,466.30V474.40M573.10,466.30H585.90M573.10,474.40H585.90" stroke="#222" stroke-width="1.2" fill="none"/>
<circle cx="579.30" cy="462.40" r="2.5" fill="#000"/>
<circle cx="569.10" cy="467.30" r="2.5" fill="#000"/>
<circle cx="583.00" cy="467.60" r="2.5" fill="#000"/>
<circle cx="575.90" cy="470.80" r="2.5" fill="#000"/>
<circle cx="589.90" cy="470.80" r="2.5" fill="#000"/>
<circle cx="569.50" cy="473.50" r="2.5" fill="#000"/>
<circle cx="583.00" cy="474.40" r="2.5" fill="#000"/>
<circle cx="575.90" cy="478.40" r="2.5" fill="#000"/>
<path d="M618.20,468.80V475.30M611.80,468.80H624.60M611.80,475.30H624.60" stroke="#222" stroke-width="1.2" fill="none"/>
<path d="M613.10,464.98L615.90,470.02L610.30,470.02Z" fill="#000"/>
<path d="M618.40,463.88L621.20,468.92L615.60,468.92Z" fill="#000"/>
<path d="M623.60,467.58L626.40,472.62L620.80,472.62Z" fill="#000"/>
<path d="M628.60,468.88L631.40,473.92L625.80,473.92Z" fill="#000"/>
<path d="M613.10,470.68L615.90,475.72L610.30,475.72Z" fill="#000"/>
<path d="M623.60,472.78L626.40,477.82L620.80,477.82Z" fill="#000"/>
<path d="M613.10,476.28L615.90,481.32L610.30,481.32Z" fill="#000"/>
<path d="M618.40,471.48L621.20,476.52L615.60,476.52Z" fill="#000"/>
<path d="M657.10,476.80V485.50M650.70,476.80H663.50M650.70,485.50H663.50" stroke="#222" stroke-width="1.2" fill="none"/>
<path d="M667.60,475.42L670.40,470.38L664.80,470.38Z" fill="#000"/>
<path d="M652.10,478.82L654.90,473.78L649.30,473.78Z" fill="#000"/>
<path d="M662.30,479.32L665.10,474.28L659.50,474.28Z" fill="#000"/>
<path d="M646.60,480.12L649.40,475.08L643.80,475.08Z" fill="#000"/>
<path d="M657.10,481.72L659.90,476.68L654.30,476.68Z" fill="#000"/>
<path d="M667.60,481.72L670.40,476.68L664.80,476.68Z" fill="#000"/>
<path d="M657.10,488.02L659.90,482.98L654.30,482.98Z" fill="#000"/>
<path d="M657.10,494.02L659.90,488.98L654.30,488.98Z" fill="#000"/>
<path d="M540.80,456.00V379.00H657.40V401.00" stroke="#000" stroke-width="1.9" fill="none"/>
<path d="M594.70,365.40V372.00M591.70,367.05L597.70,370.35M591.70,370.35L597.70,367.05" stroke="#000" stroke-width="1.35" fill="none"/>
<path d="M603.57,365.40V372.00M600.57,367.05L606.57,370.35M600.57,370.35L606.57,367.05" stroke="#000" stroke-width="1.35" fill="none"/>
<path d="M579.50,452.00V410.40H657.40V432.00" stroke="#000" stroke-width="1.9" fill="none"/>
<path d="M614.70,397.00V403.60M611.70,398.65L617.70,401.95M611.70,401.95L617.70,398.65" stroke="#000" stroke-width="1.35" fill="none"/>
<path d="M623.57,397.00V403.60M620.57,398.65L626.57,401.95M620.57,401.95L626.57,398.65" stroke="#000" stroke-width="1.35" fill="none"/>
<path d="M618.20,456.00V442.00H657.40V463.80" stroke="#000" stroke-width="1.9" fill="none"/>
<path d="M634.10,428.40V435.00M631.10,430.05L637.10,433.35M631.10,433.35L637.10,430.05" stroke="#000" stroke-width="1.35" fill="none"/>
<path d="M642.97,428.40V435.00M639.97,430.05L645.97,433.35M639.97,433.35L645.97,430.05" stroke="#000" stroke-width="1.35" fill="none"/>
</svg>
</body></html>
